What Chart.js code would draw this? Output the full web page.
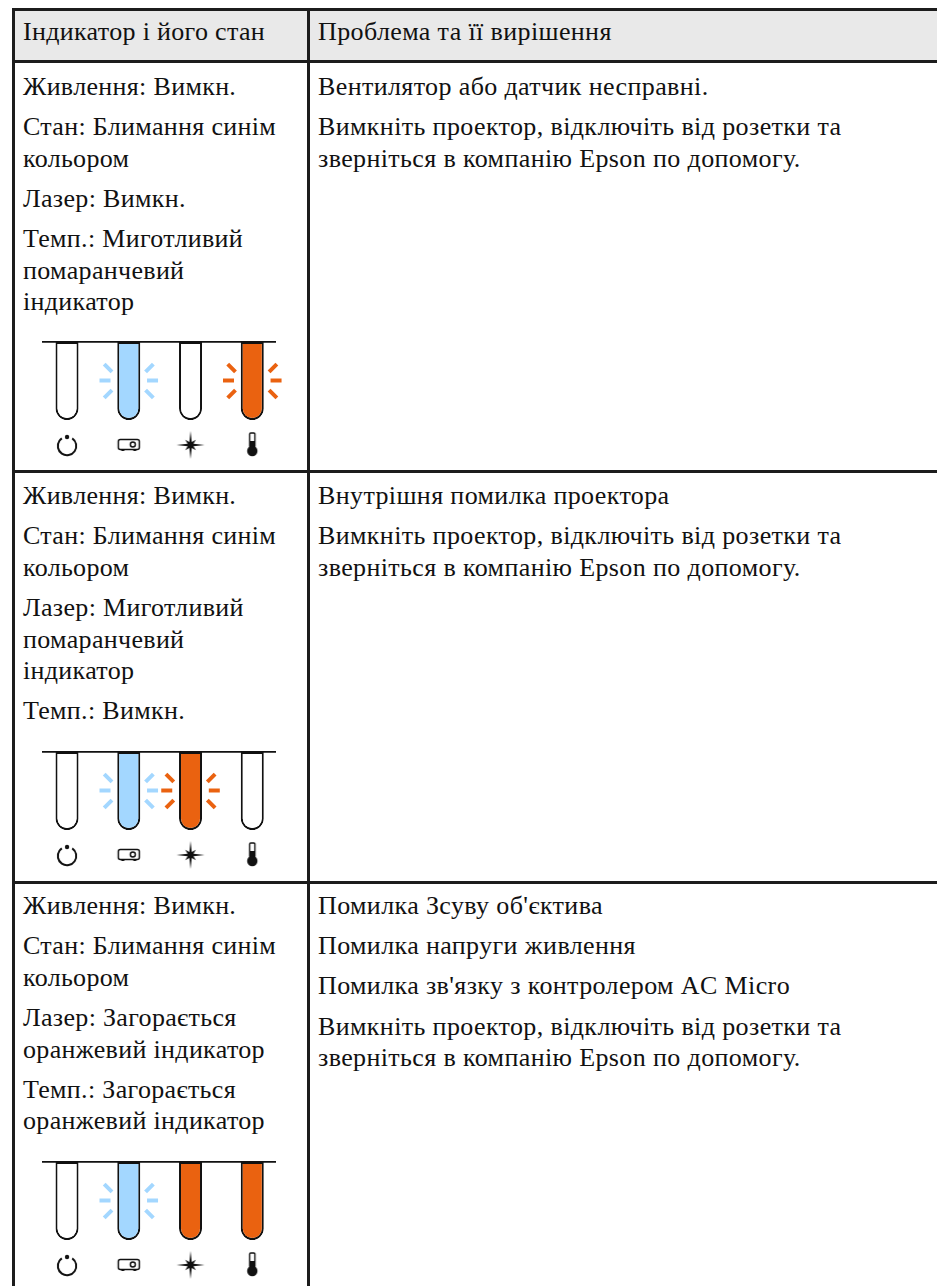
<!DOCTYPE html>
<html lang="uk">
<head>
<meta charset="utf-8">
<title>Індикатор і його стан</title>
<script src="https://cdn.jsdelivr.net/npm/chart.js@4/dist/chart.umd.min.js"></script>
<style>
  html, body { margin: 0; background: #fff; width: 937px; height: 1286px; overflow: hidden; }
  body { position: relative; font-family: "Liberation Serif", serif; color: #111; font-size: 26px; }
  .hline, .vline { position: absolute; background: #1c1c1c; }
  .hline { left: 12px; width: 925px; height: 3px; }
  .vline { top: 8px; width: 3px; height: 1278px; }
  #head { position: absolute; left: 12px; top: 8px; width: 925px; height: 54px; background: #e9e9e9; }
  .cell { position: absolute; white-space: nowrap; line-height: 31.6px; }
  .cell p { margin: 0 0 8.6px 0; }
  .left { left: 23px; letter-spacing: 0.33px; }
  .right { left: 318px; letter-spacing: 0.38px; }
  canvas { position: absolute; left: 23px; }
</style>
</head>
<body>
<div id="head"></div>
<div id="text"></div>
<canvas id="panel1" width="275" height="145" style="top:322px"></canvas>
<canvas id="panel2" width="275" height="145" style="top:732px"></canvas>
<canvas id="panel3" width="275" height="145" style="top:1142px"></canvas>
<script>
const headers = ["Індикатор і його стан", "Проблема та її вирішення"];

const row1Left = ["Живлення: Вимкн.", "Стан: Блимання синім<br>кольором", "Лазер: Вимкн.", "Темп.: Миготливий<br>помаранчевий<br>індикатор"];
const row2Left = ["Живлення: Вимкн.", "Стан: Блимання синім<br>кольором", "Лазер: Миготливий<br>помаранчевий<br>індикатор", "Темп.: Вимкн."];
const row3Left = ["Живлення: Вимкн.", "Стан: Блимання синім<br>кольором", "Лазер: Загорається<br>оранжевий індикатор", "Темп.: Загорається<br>оранжевий індикатор"];

const fixText = "Вимкніть проектор, відключіть від розетки та<br>зверніться в компанію Epson по допомогу.";
const row1Right = ["Вентилятор або датчик несправні.", fixText];
const row2Right = ["Внутрішня помилка проектора", fixText];
const row3Right = ["Помилка Зсуву об'єктива", "Помилка напруги живлення", "Помилка зв'язку з контролером AC Micro", fixText];

// indicator lamps, left to right
const lampPositions = [1, 2, 3, 4];
const lampHeights = [78, 78, 78, 78];
const iconLevels = [103, 103, 103, 103];

// off, blue-blink, orange-blink, orange-on
const panel1States = ["off", "blue-blink", "off", "orange-blink"];
const panel2States = ["off", "blue-blink", "orange-blink", "off"];
const panel3States = ["off", "blue-blink", "orange-on", "orange-on"];

// the six short rays round a blinking lamp
const rayDx = [-0.335, -0.385, -0.335, 0.335, 0.385, 0.335];
const rayDy = [26, 38.5, 52, 26, 38.5, 52];
const rayAngles = [45, 0, -45, -45, 0, 45];

const BLUE = "#a3d7ff";
const ORANGE = "#ea6210";
const INK = "#111111";

function addCell(cls, top, paragraphs) {
  const div = document.createElement("div");
  div.className = "cell " + cls;
  div.style.top = top + "px";
  div.innerHTML = paragraphs.map(p => "<p>" + p + "</p>").join("");
  document.getElementById("text").appendChild(div);
}

function addLines() {
  [8, 60, 470, 881].forEach(y => {
    const d = document.createElement("div");
    d.className = "hline";
    d.style.top = y + "px";
    document.body.appendChild(d);
  });
  [12, 307].forEach(x => {
    const d = document.createElement("div");
    d.className = "vline";
    d.style.left = x + "px";
    document.body.appendChild(d);
  });
}

function iconCanvas(draw) {
  const c = document.createElement("canvas");
  c.width = 34;
  c.height = 34;
  const ctx = c.getContext("2d");
  ctx.translate(17, 17);
  ctx.strokeStyle = INK;
  ctx.fillStyle = INK;
  draw(ctx);
  return c;
}

const icons = [
  iconCanvas(ctx => {
    ctx.lineWidth = 2;
    ctx.beginPath();
    ctx.arc(0, 1, 9.2, -Math.PI / 2 + 0.6, -Math.PI / 2 - 0.6 + Math.PI * 2);
    ctx.stroke();
    ctx.beginPath();
    ctx.arc(0, -8, 2.2, 0, Math.PI * 2);
    ctx.fill();
  }),
  iconCanvas(ctx => {
    ctx.lineWidth = 1.5;
    ctx.beginPath();
    ctx.roundRect(-10.5, -5.5, 21, 10, 2);
    ctx.stroke();
    ctx.beginPath();
    ctx.arc(4, -0.5, 2.5, 0, Math.PI * 2);
    ctx.stroke();
    ctx.fillRect(-7.5, 4.5, 3, 1.5);
    ctx.fillRect(4.5, 4.5, 3, 1.5);
  }),
  iconCanvas(ctx => {
    ctx.beginPath();
    for (let i = 0; i < 16; i++) {
      const a = i * Math.PI / 8 - Math.PI / 2;
      const long = i % 4 === 0 ? 14 : (i % 2 === 0 ? 7.5 : 3.2);
      ctx.lineTo(Math.cos(a) * long, Math.sin(a) * long);
    }
    ctx.closePath();
    ctx.fill();
  }),
  iconCanvas(ctx => {
    ctx.lineWidth = 1.4;
    ctx.beginPath();
    ctx.roundRect(-2.6, -12, 5.2, 14, 1);
    ctx.stroke();
    ctx.fillRect(-2.6, -4, 5.2, 8);
    ctx.beginPath();
    ctx.arc(0, 6, 5.2, 0, Math.PI * 2);
    ctx.fill();
  })
];

function lampColor(state) {
  if (state.startsWith("blue")) return BLUE;
  if (state.startsWith("orange")) return ORANGE;
  return "#ffffff";
}

function drawPanel(id, states) {
  const rays = [];
  const rayColors = [];
  const rayRotation = [];
  states.forEach((state, i) => {
    if (!state.endsWith("blink")) return;
    rayDx.forEach((dx, k) => {
      rays.push({ x: lampPositions[i] + dx, y: rayDy[k] });
      rayColors.push(lampColor(state));
      rayRotation.push(rayAngles[k]);
    });
  });

  new Chart(document.getElementById(id).getContext("2d"), {
    data: {
      datasets: [
        {
          type: "bar",
          data: lampPositions.map((x, i) => ({ x, y: lampHeights[i] })),
          backgroundColor: states.map(lampColor),
          borderColor: INK,
          borderWidth: 2,
          borderSkipped: false,
          barThickness: 23,
          inflateAmount: 0,
          borderRadius: { topLeft: 0, topRight: 0, bottomLeft: 11.5, bottomRight: 11.5 }
        },
        {
          type: "scatter",
          data: rays,
          pointStyle: "line",
          pointRadius: 5.5,
          pointBorderWidth: 4,
          pointBorderColor: rayColors,
          pointRotation: rayRotation,
          clip: false
        },
        {
          type: "scatter",
          data: lampPositions.map((x, i) => ({ x, y: iconLevels[i] })),
          pointStyle: icons,
          pointRadius: 17,
          clip: false
        }
      ]
    },
    options: {
      responsive: false,
      animation: false,
      layout: { autoPadding: false, padding: { left: 20, right: 23, top: 12, bottom: 12 } },
      plugins: { legend: { display: false }, tooltip: { enabled: false } },
      scales: {
        x: {
          type: "linear",
          position: "top",
          offset: false,
          min: 0.611,
          max: 4.368,
          grid: { display: false },
          border: { display: true, color: INK, width: 1.7, z: 2 },
          ticks: { display: false }
        },
        y: {
          display: false,
          reverse: true,
          min: 0,
          max: 113
        }
      }
    }
  });
}

// header band and text
addCell("left", 16, [headers[0]]);
addCell("right", 16, [headers[1]]);
addCell("left", 71, row1Left);
addCell("right", 71, row1Right);
addCell("left", 480, row2Left);
addCell("right", 480, row2Right);
addCell("left", 890, row3Left);
addCell("right", 890, row3Right);
addLines();

drawPanel("panel1", panel1States);
drawPanel("panel2", panel2States);
drawPanel("panel3", panel3States);
</script>
</body>
</html>
